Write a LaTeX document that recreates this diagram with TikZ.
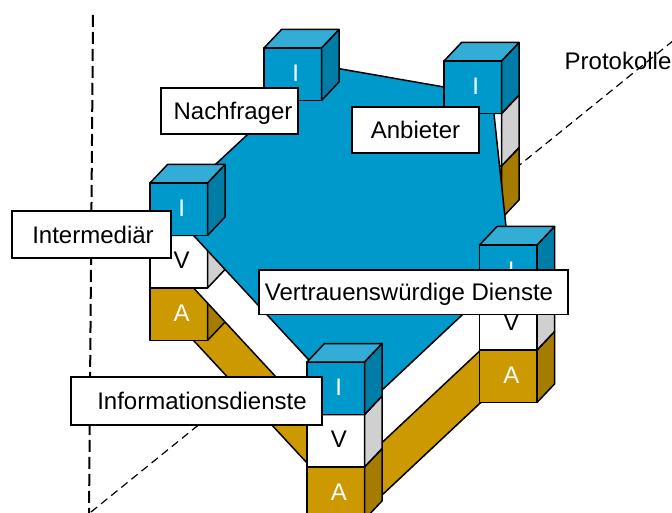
\documentclass[tikz,border=0pt]{standalone}
\usepackage{fontspec}
\setmainfont{Liberation Sans}
\definecolor{bfront}{RGB}{0,153,204}
\definecolor{bside}{RGB}{0,125,166}
\definecolor{btop}{RGB}{51,173,214}
\definecolor{gfront}{RGB}{204,153,0}
\definecolor{gside}{RGB}{166,124,0}
\definecolor{vside}{RGB}{208,208,208}
\newcommand{\DrawCubeAt}[8]{%
  \path[fill=#3,edge] (#1,#2) rectangle ++(57.5,52.5);
  \path[fill=#4,edge] (#1+57.5,#2) -- ++(17.5,-18.5) -- ++(0,52.5) -- ++(-17.5,18.5) -- cycle;
  \path[fill=#5,edge] (#1,#2) -- ++(17.5,-18.5) -- ++(57.5,0) -- ++(-17.5,18.5) -- cycle;
  \node[cubetxt,text=#7] (#8) at (#1+31.75,#2+24.5) {#6};
}
\begin{document}
\begin{tikzpicture}[x=1pt,y=-1pt,
  edge/.style={draw=black,line width=1.5pt,line join=round},
  lbl/.style={draw=black,line width=1.5pt,fill=white,inner sep=0pt,
    font=\fontsize{24}{28}\selectfont,text height=17.2pt,text depth=0pt},
  cubetxt/.style={inner sep=0pt,font=\fontsize{24}{28}\selectfont,
    text height=17.2pt,text depth=0pt},
  vdash/.style={draw=black,line width=2pt,dash pattern=on 12pt off 5pt},
  ddash/.style={draw=black,line width=1.2pt,dash pattern=on 8pt off 5pt}]
\useasboundingbox (0,0) rectangle (672,513);
\clip (0,0) rectangle (672,513);
\fill[white] (0,0) rectangle (672,513);

% dashed protocol lines
\coordinate (vtop) at (93,15);
\coordinate (vbot) at (89,516);
\draw[vdash] (vtop) -- (vbot);
\coordinate (dlo) at (91,512);
\coordinate (dhi) at (674,40);
\draw[ddash] (dlo) -- (dhi);

% Anbieter lower cubes (behind the planes)
\DrawCubeAt{444}{166}{gfront}{gside}{gfront}{A}{white}{anbA}
\DrawCubeAt{444}{113.5}{white}{vside}{white}{V}{black}{anbV}

% A level plane
\path[fill=gfront,edge] (321.5,170.6) -- (492,200.4) -- (510.6,374.5) -- (357.8,517.8) -- (168.4,313.3) -- cycle;
\DrawCubeAt{150}{288}{gfront}{gside}{gfront}{A}{white}{intA}
% V level plane
\path[fill=white,edge] (321.5,118.1) -- (492,147.9) -- (510.6,322) -- (357.8,465.3) -- (168.4,260.8) -- cycle;
\DrawCubeAt{150}{235.5}{white}{vside}{white}{V}{black}{intV}
% I level plane
\path[fill=bfront,edge] (321.5,65.6) -- (492,95.4) -- (510.6,269.5) -- (357.8,412.8) -- (168.4,208.3) -- cycle;

% I cubes on top
\DrawCubeAt{150}{183}{bfront}{bside}{btop}{I}{white}{intI}
\DrawCubeAt{264}{48}{bfront}{bside}{btop}{I}{white}{nachI}
\DrawCubeAt{444}{61}{bfront}{bside}{btop}{I}{white}{anbI}

% front towers
\DrawCubeAt{479.5}{350}{gfront}{gside}{gfront}{A}{white}{vertA}
\DrawCubeAt{479.5}{297.5}{white}{vside}{white}{V}{black}{vertV}
\DrawCubeAt{479.5}{245}{bfront}{bside}{btop}{I}{white}{vertI}

\DrawCubeAt{307}{467}{gfront}{gside}{gfront}{A}{white}{infoA}
\DrawCubeAt{307}{414.5}{white}{vside}{white}{V}{black}{infoV}
\DrawCubeAt{307}{362}{bfront}{bside}{btop}{I}{white}{infoI}

% labels
\node[lbl,minimum width=137pt,minimum height=46pt] (nach) at (229.5,111) {\hspace*{7pt}Nachfrager};
\node[lbl,minimum width=127pt,minimum height=46pt] (anb) at (415.5,130) {Anbieter};
\node[lbl,minimum width=159pt,minimum height=47pt] (inter) at (91.5,234.5) {\hspace*{3pt}Intermediär};
\node[lbl,minimum width=309pt,minimum height=44.5pt] (vert) at (413.5,292.2) {Vertrauenswürdige Dienste\hspace*{9pt}};
\node[lbl,minimum width=251pt,minimum height=48pt] (info) at (196.5,401) {\hspace*{11pt}Informationsdienste};
\node[cubetxt,anchor=base west] (prot) at (564.5,69.5) {Protokolle};
\end{tikzpicture}
\end{document}
